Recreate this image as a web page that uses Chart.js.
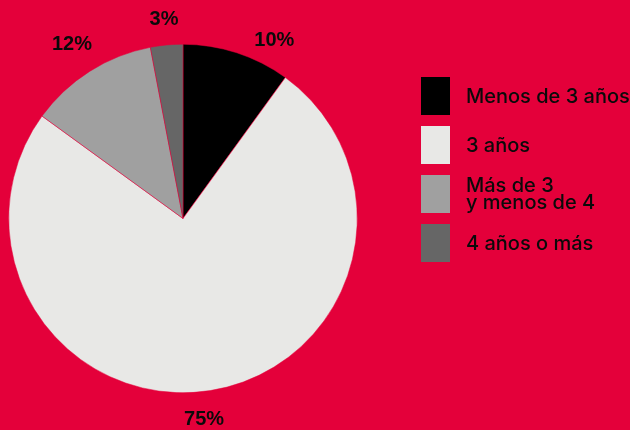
<!DOCTYPE html>
<html>
<head>
<meta charset="utf-8">
<script src="https://cdn.jsdelivr.net/npm/chart.js@4.4.0/dist/chart.umd.min.js"></script>
<style>
  html, body { margin: 0; padding: 0; background: #e4003a; }
  #wrap { position: relative; width: 630px; height: 430px; }
  #legend { position: absolute; left: 421px; top: 77px; font-family: "Inter", "Roboto", sans-serif; font-weight: 500; font-size: 20px; color: #0a0a0a; }
  .item { display: flex; align-items: center; height: 38px; margin-bottom: 11px; }
  .box { width: 29px; height: 38px; margin-right: 16px; flex: none; }
  .txt { line-height: 17px; white-space: nowrap; }
</style>
</head>
<body>
<div id="wrap">
  <canvas id="chart" width="630" height="430"></canvas>
  <div id="legend"></div>
</div>
<script>
const categories = ["Menos de 3 años", "3 años", "Más de 3\ny menos de 4", "4 años o más"];
const values = [10, 75, 12, 3];
const colors = ["#000000", "#e8e8e6", "#a0a0a0", "#666666"];

// little angle nudges (degrees) for the outside labels
const labelNudge = [9, 3, 0, 0];

const outsideLabels = {
  id: "outsideLabels",
  afterDatasetsDraw(chart) {
    const ctx = chart.ctx;
    const meta = chart.getDatasetMeta(0);
    ctx.save();
    ctx.font = "bold 20px 'Liberation Sans', Arial, sans-serif";
    ctx.fillStyle = "#0a0a0a";
    ctx.textAlign = "center";
    ctx.textBaseline = "middle";
    meta.data.forEach((arc, i) => {
      const p = arc.getProps(["x", "y", "startAngle", "endAngle", "outerRadius"], true);
      const mid = (p.startAngle + p.endAngle) / 2 + labelNudge[i] * Math.PI / 180;
      const r = p.outerRadius + (i === 2 ? 33 : 27);
      ctx.fillText(values[i] + "%", p.x + Math.cos(mid) * r, p.y + Math.sin(mid) * r + 1);
    });
    ctx.restore();
  }
};

new Chart(document.getElementById("chart"), {
  type: "pie",
  data: {
    labels: categories,
    datasets: [{
      data: values,
      backgroundColor: colors,
      borderColor: "#e4003a",
      borderWidth: 0.5
    }]
  },
  options: {
    responsive: false,
    animation: false,
    layout: { padding: { left: 8, right: 272, top: 44, bottom: 37 } },
    plugins: {
      legend: { display: false },
      tooltip: { enabled: false }
    }
  },
  plugins: [outsideLabels]
});

const legend = document.getElementById("legend");
categories.forEach((c, i) => {
  const item = document.createElement("div");
  item.className = "item";
  item.innerHTML = `<div class="box" style="background:${colors[i]}"></div><div class="txt">${c.replace("\n", "<br>")}</div>`;
  legend.appendChild(item);
});
</script>
</body>
</html>
